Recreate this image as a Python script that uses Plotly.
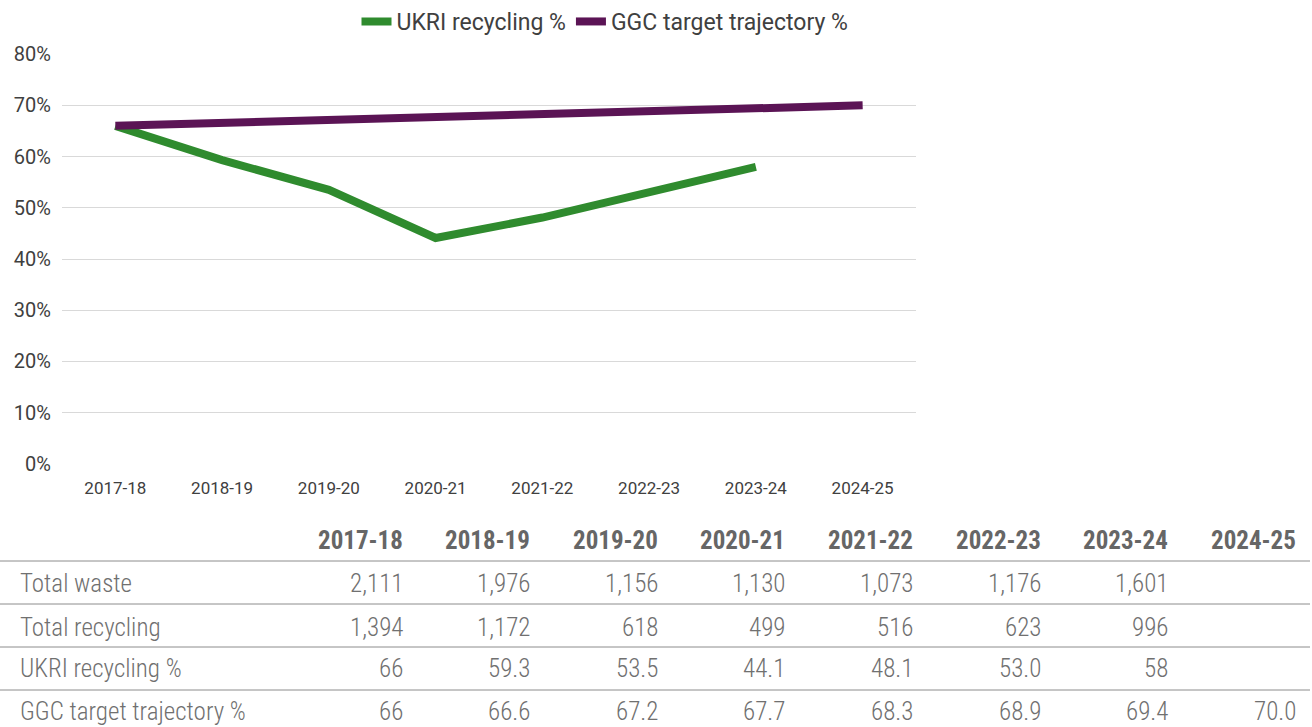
import plotly.graph_objects as go

years = ["2017-18", "2018-19", "2019-20", "2020-21", "2021-22", "2022-23", "2023-24", "2024-25"]
total_waste = ["2,111", "1,976", "1,156", "1,130", "1,073", "1,176", "1,601", ""]
total_recycling = ["1,394", "1,172", "618", "499", "516", "623", "996", ""]
ukri_pct = ["66", "59.3", "53.5", "44.1", "48.1", "53.0", "58", ""]
ggc_pct = ["66", "66.6", "67.2", "67.7", "68.3", "68.9", "69.4", "70.0"]
row_labels = ["Total waste", "Total recycling", "UKRI recycling %", "GGC target trajectory %"]
y_ticks = [0, 10, 20, 30, 40, 50, 60, 70, 80]

W, H = 1312, 727
GREEN = "#2f8b2e"
PURPLE = "#5b1455"

def to_num(vals):
    return [float(v) if v != "" else None for v in vals]

fig = go.Figure()
fig.add_trace(go.Scatter(x=years, y=to_num(ukri_pct), mode="lines", name="UKRI recycling %",
                         line=dict(color=GREEN, width=8), connectgaps=False))
fig.add_trace(go.Scatter(x=years, y=to_num(ggc_pct), mode="lines", name="GGC target trajectory %",
                         line=dict(color=PURPLE, width=8)))

x0p, x1p = 62, 916
ytop, ybot = 54, 464
fig.update_layout(
    width=W, height=H,
    margin=dict(l=0, r=0, t=0, b=0),
    paper_bgcolor="white", plot_bgcolor="white",
    font=dict(family="Roboto", size=17, color="#404040"),
    showlegend=True,
    legend=dict(orientation="h", x=605 / W, xanchor="center", y=1.0, yanchor="top",
                font=dict(size=23, color="#404040", family="Roboto"),
                tracegroupgap=0),
    xaxis=dict(domain=[x0p / W, x1p / W], showgrid=False, showline=False, ticks="",
               range=[-0.5, 7.5], type="category",
               tickfont=dict(size=17, color="#404040"), automargin=False, ticklabelstandoff=12),
    yaxis=dict(domain=[1 - ybot / H, 1 - ytop / H], range=[-0.03, 80.03],
               tickmode="array", tickvals=y_ticks, ticktext=[f"{v}%" for v in y_ticks],
               showgrid=True, gridcolor="#d9d9d9", gridwidth=1.2, zeroline=False,
               tickfont=dict(size=20, color="#3f3f3f"), automargin=False, ticklabelstandoff=10),
)

tfont = "Roboto Condensed"
col_right = [405, 532, 660, 787, 915, 1043, 1170, 1298]
header_y = 540
row_ys = [583, 627, 668, 711]
line_ys = [561, 604, 647, 690]

for i, yr in enumerate(years):
    fig.add_annotation(x=col_right[i] / W, y=1 - header_y / H, xref="paper", yref="paper",
                       text=yr, showarrow=False, xanchor="right", yanchor="middle",
                       font=dict(family=tfont, size=25, color="#666666", weight="bold"))

rows = [total_waste, total_recycling, ukri_pct, ggc_pct]
for r, (lab, vals) in enumerate(zip(row_labels, rows)):
    yy = 1 - row_ys[r] / H
    fig.add_annotation(x=18 / W, y=yy, xref="paper", yref="paper", text=lab, showarrow=False,
                       xanchor="left", yanchor="middle",
                       font=dict(family=tfont, size=25, color="#707070", weight=300))
    for i, v in enumerate(vals):
        if v == "":
            continue
        fig.add_annotation(x=col_right[i] / W, y=yy, xref="paper", yref="paper", text=v,
                           showarrow=False, xanchor="right", yanchor="middle",
                           font=dict(family=tfont, size=25, color="#707070", weight=300))

for ly in line_ys:
    fig.add_shape(type="line", xref="paper", yref="paper", x0=0, x1=1310 / W,
                  y0=1 - ly / H, y1=1 - ly / H, line=dict(color="#8c8c8c", width=1))

fig.write_html("out.html", config={"displayModeBar": False},
               post_script="document.body.style.margin='0';document.body.style.overflow='hidden';")
